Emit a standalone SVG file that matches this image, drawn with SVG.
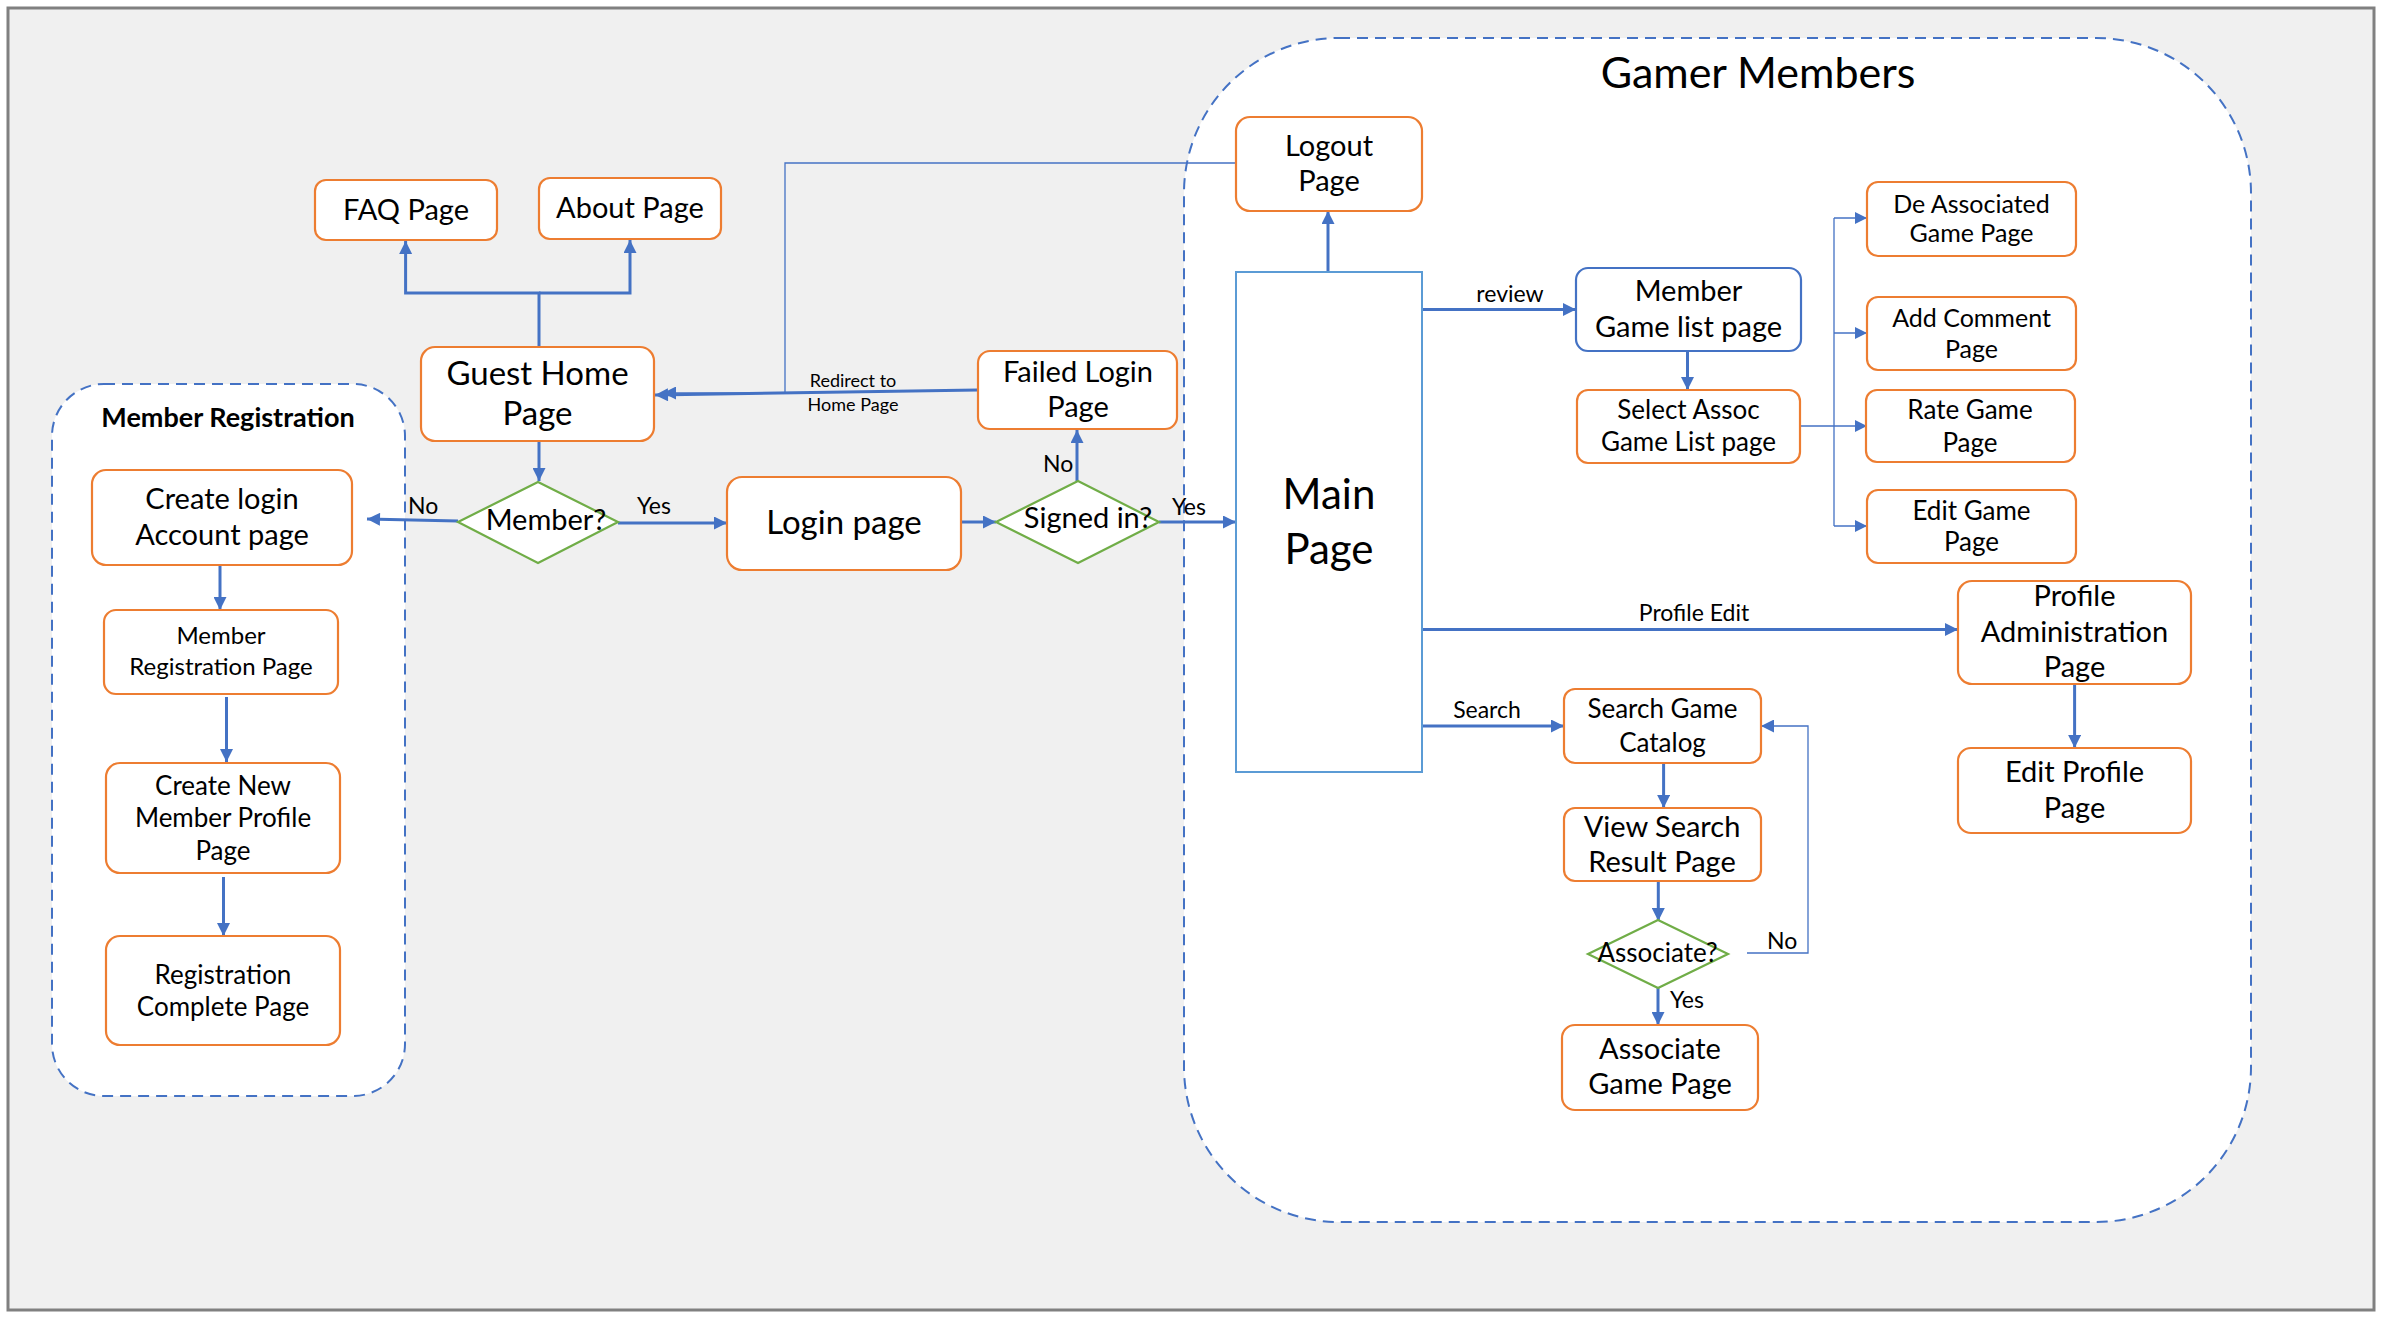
<svg xmlns="http://www.w3.org/2000/svg" width="2386" height="1324" viewBox="0 0 2386 1324">
<style>
text{font-family:Lato,"Liberation Sans",sans-serif;fill:#000;text-anchor:middle}
.box{fill:#fff;stroke:#ED7D31;stroke-width:2.2}
.bbox{fill:#fff;stroke:#4472C4;stroke-width:2.2}
.dia{fill:#fff;stroke:#70AD47;stroke-width:2.2}
.cont{fill:#fff;stroke:#4472C4;stroke-width:2;stroke-dasharray:11 7}
.c{fill:none;stroke:#4472C4;stroke-width:3}
.t{fill:none;stroke:#4472C4;stroke-width:1.3}
.s29{font-size:29px}
.s26{font-size:26px}
.s25{font-size:25px}
.s24{font-size:24px}
.lab{font-size:23px;text-anchor:start}
</style>
<defs>
<marker id="a" viewBox="0 0 10 10" refX="10" refY="5" markerWidth="14" markerHeight="13" markerUnits="userSpaceOnUse" orient="auto"><path d="M0,0 L10,5 L0,10 z" fill="#4472C4"/></marker>
<marker id="at" viewBox="0 0 10 10" refX="10" refY="5" markerWidth="12" markerHeight="12" markerUnits="userSpaceOnUse" orient="auto"><path d="M0,0 L10,5 L0,10 z" fill="#4472C4"/></marker>
</defs>
<rect x="0" y="0" width="2386" height="1324" fill="#fff"/>
<rect x="8" y="8" width="2366" height="1302" fill="#F0F0F0" stroke="#808080" stroke-width="3"/>

<g id="gamer-members">
<rect class="cont" x="1184" y="38" width="1067" height="1184" rx="155" ry="155"/>
<text x="1758" y="88" style="font-size:43px">Gamer Members</text>
</g>
<g id="member-registration">
<rect class="cont" x="52" y="384" width="353" height="712" rx="52" ry="52"/>
<text x="228" y="427" style="font-size:27px;font-weight:700">Member Registration</text>
</g>

<g id="connectors">
<path class="c" d="M539,347 V293 H405.6 V241" marker-end="url(#a)"/>
<path class="c" d="M539,293 H630 V240" marker-end="url(#a)"/>
<path class="c" d="M539,441 V481" marker-end="url(#a)"/>
<path class="c" d="M458,521 L367,519" marker-end="url(#a)"/>
<path class="c" d="M618,523 H727" marker-end="url(#a)"/>
<path class="c" d="M961,522 H996" marker-end="url(#a)"/>
<path class="c" d="M1077,481 V430" marker-end="url(#a)"/>
<path class="c" d="M1159,522 H1236" marker-end="url(#a)"/>
<path class="c" d="M978,390 L655,395" marker-end="url(#a)"/>
<path class="t" d="M1236,163 H785 V393 H663" marker-end="url(#a)"/>
<path class="c" d="M1328,272 V211" marker-end="url(#a)"/>
<path class="c" d="M1422,309.5 H1576" marker-end="url(#a)"/>
<path class="c" d="M1687.5,351 V390" marker-end="url(#a)"/>
<path class="t" d="M1800,426 H1834 M1834,218 V526"/>
<path class="t" d="M1834,218 H1867" marker-end="url(#at)"/>
<path class="t" d="M1834,333 H1867" marker-end="url(#at)"/>
<path class="t" d="M1834,426 H1867" marker-end="url(#at)"/>
<path class="t" d="M1834,526 H1867" marker-end="url(#at)"/>
<path class="c" d="M1422,629.5 H1958" marker-end="url(#a)"/>
<path class="c" d="M2074.6,684 V748" marker-end="url(#a)"/>
<path class="c" d="M1422,726 H1564" marker-end="url(#a)"/>
<path class="c" d="M1663.6,763 V808" marker-end="url(#a)"/>
<path class="c" d="M1658.3,881 V921" marker-end="url(#a)"/>
<path class="t" d="M1747,953 H1808 V726 H1761" marker-end="url(#a)"/>
<path class="c" d="M1658,988 V1025" marker-end="url(#a)"/>
<path class="c" d="M220,565 V610" marker-end="url(#a)"/>
<path class="c" d="M226.5,697 V762" marker-end="url(#a)"/>
<path class="c" d="M223.5,877 V936" marker-end="url(#a)"/>
<text class="lab" x="408" y="514">No</text>
<text class="lab" x="637" y="514">Yes</text>
<text class="lab" x="1043" y="472">No</text>
<text class="lab" x="1172" y="515">Yes</text>
<text x="853" y="387" style="font-size:18px">Redirect to</text>
<text x="853" y="411" style="font-size:18px">Home Page</text>
<text x="1510" y="302" style="font-size:23px">review</text>
<text x="1694" y="621" style="font-size:23px">Profile Edit</text>
<text x="1487" y="718" style="font-size:23px">Search</text>
<text class="lab" x="1767" y="949">No</text>
<text class="lab" x="1670" y="1008">Yes</text>
</g>

<g id="faq-page"><rect class="box" x="315" y="180" width="182" height="60" rx="11"/><text class="s29" x="406" y="220">FAQ Page</text></g>
<g id="about-page"><rect class="box" x="539" y="178" width="182" height="61" rx="11"/><text class="s29" x="630" y="218">About Page</text></g>
<g id="guest-home-page"><rect class="box" x="421" y="347" width="233" height="94" rx="14"/><text x="537.5" y="385" style="font-size:33px">Guest Home</text><text x="537.5" y="425" style="font-size:33px">Page</text></g>
<g id="failed-login-page"><rect class="box" x="978" y="351" width="199" height="78" rx="12"/><text class="s29" x="1078" y="382">Failed Login</text><text class="s29" x="1078" y="417">Page</text></g>
<g id="member-decision"><polygon class="dia" points="538,482 618,522 538,563 458,522"/><text class="s29" x="546" y="530">Member?</text></g>
<g id="login-page"><rect class="box" x="727" y="477" width="234" height="93" rx="15"/><text x="844" y="534" style="font-size:33px">Login page</text></g>
<g id="signed-in-decision"><polygon class="dia" points="1078,481 1159,522 1078,563 996,522"/><text class="s29" x="1088" y="528">Signed in?</text></g>
<g id="create-login-account-page"><rect class="box" x="92" y="470" width="260" height="95" rx="14"/><text class="s29" x="222" y="509">Create login</text><text class="s29" x="222" y="545">Account page</text></g>
<g id="member-registration-page"><rect class="box" x="104" y="610" width="234" height="84" rx="12"/><text class="s24" x="221" y="644">Member</text><text class="s24" x="221" y="675">Registration Page</text></g>
<g id="create-new-member-profile-page"><rect class="box" x="106" y="763" width="234" height="110" rx="14"/><text class="s26" x="223" y="795">Create New</text><text class="s26" x="223" y="827">Member Profile</text><text class="s26" x="223" y="860">Page</text></g>
<g id="registration-complete-page"><rect class="box" x="106" y="936" width="234" height="109" rx="14"/><text class="s26" x="223" y="984">Registration</text><text class="s26" x="223" y="1016">Complete Page</text></g>

<g id="main-page"><rect x="1236" y="272" width="186" height="500" fill="#fff" stroke="#5B9BD5" stroke-width="2"/><text x="1329" y="509" style="font-size:42px">Main</text><text x="1329" y="564" style="font-size:42px">Page</text></g>
<g id="logout-page"><rect class="box" x="1236" y="117" width="186" height="94" rx="14"/><text class="s29" x="1329" y="156">Logout</text><text class="s29" x="1329" y="191">Page</text></g>
<g id="member-game-list-page"><rect class="bbox" x="1576" y="268" width="225" height="83" rx="12"/><text class="s29" x="1688.5" y="301">Member</text><text class="s29" x="1688.5" y="337">Game list page</text></g>
<g id="select-assoc-game-list-page"><rect class="box" x="1577" y="390" width="223" height="73" rx="11"/><text class="s26" x="1688.5" y="419">Select Assoc</text><text class="s26" x="1688.5" y="451">Game List page</text></g>
<g id="de-associated-game-page"><rect class="box" x="1867" y="182" width="209" height="74" rx="11"/><text class="s25" x="1971.5" y="213">De Associated</text><text class="s25" x="1971.5" y="242">Game Page</text></g>
<g id="add-comment-page"><rect class="box" x="1867" y="297" width="209" height="73" rx="11"/><text class="s25" x="1971.5" y="327">Add Comment</text><text class="s25" x="1971.5" y="358">Page</text></g>
<g id="rate-game-page"><rect class="box" x="1866" y="390" width="209" height="72" rx="11"/><text class="s26" x="1970" y="419">Rate Game</text><text class="s26" x="1970" y="452">Page</text></g>
<g id="edit-game-page"><rect class="box" x="1867" y="490" width="209" height="73" rx="11"/><text class="s26" x="1971.5" y="520">Edit Game</text><text class="s26" x="1971.5" y="551">Page</text></g>
<g id="profile-administration-page"><rect class="box" x="1958" y="581" width="233" height="103" rx="14"/><text class="s29" x="2074.5" y="606">Profile</text><text class="s29" x="2074.5" y="642">Administration</text><text class="s29" x="2074.5" y="677">Page</text></g>
<g id="edit-profile-page"><rect class="box" x="1958" y="748" width="233" height="85" rx="13"/><text class="s29" x="2074.5" y="782">Edit Profile</text><text class="s29" x="2074.5" y="818">Page</text></g>
<g id="search-game-catalog"><rect class="box" x="1564" y="689" width="197" height="74" rx="11"/><text class="s26" x="1662.5" y="718">Search Game</text><text class="s26" x="1662.5" y="752">Catalog</text></g>
<g id="view-search-result-page"><rect class="box" x="1564" y="808" width="197" height="73" rx="11"/><text class="s29" x="1662" y="837">View Search</text><text class="s29" x="1662" y="872">Result Page</text></g>
<g id="associate-decision"><polygon class="dia" points="1658,920 1728,954 1658,988 1588,954"/><text class="s26" x="1657.5" y="962">Associate?</text></g>
<g id="associate-game-page"><rect class="box" x="1562" y="1025" width="196" height="85" rx="13"/><text class="s29" x="1660" y="1059">Associate</text><text class="s29" x="1660" y="1094">Game Page</text></g>
</svg>
